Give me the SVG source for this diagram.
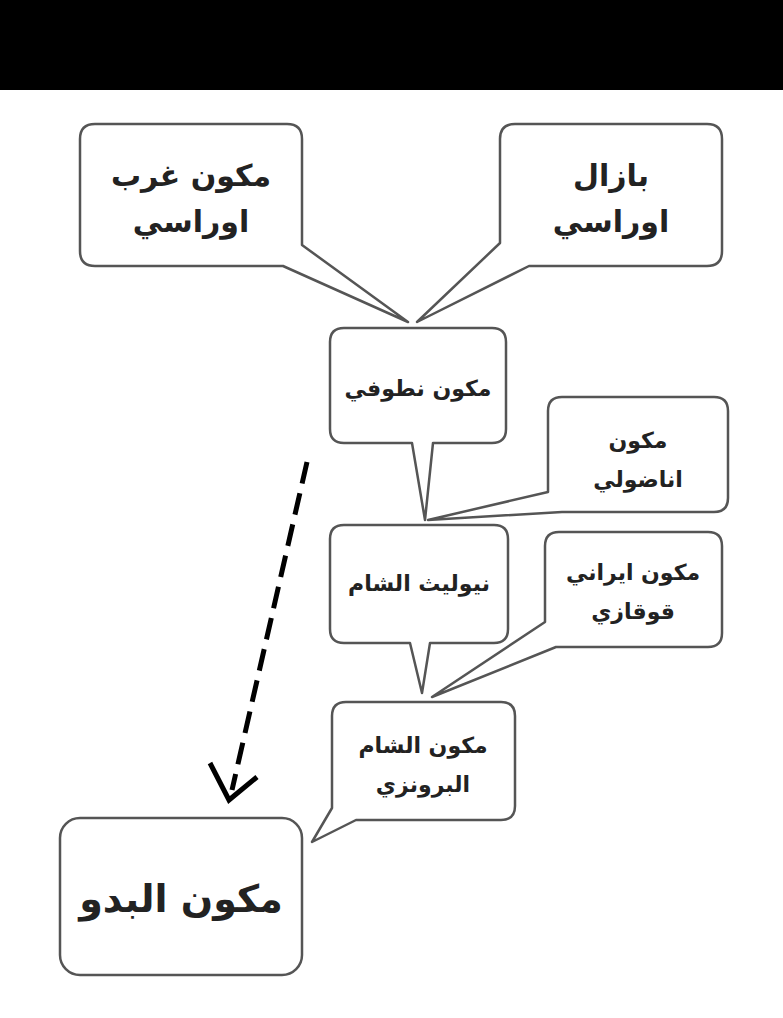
<svg xmlns="http://www.w3.org/2000/svg" width="783" height="1018" viewBox="0 0 783 1018">
<style>
.b{fill:#fff;stroke:#555;stroke-width:2.5;stroke-linejoin:round}
text{font-family:"DejaVu Sans","Noto Sans",sans-serif;font-weight:bold;fill:#222;text-anchor:middle}
.l{font-size:30px}.s{font-size:22px}.x{font-size:38px}
</style>
<rect width="783" height="1018" fill="#fff"/>
<rect width="783" height="90" fill="#000"/>
<g id="connectors">
<path d="M307,462 L232,790" fill="none" stroke="#000" stroke-width="5" stroke-dasharray="22,10"/>
<path d="M210,763 L229,800 L257,777" fill="none" stroke="#000" stroke-width="5" stroke-linejoin="miter"/>
</g>
<g id="n-west"><path class="b" d="M95,124 H287 Q302,124 302,139 V245 L408,322 L283,266 H95 Q80,266 80,251 V139 Q80,124 95,124 Z"/>
<text class="l" x="191" y="186">مكون غرب</text><text class="l" x="191" y="232">اوراسي</text></g>
<g id="n-basal"><path class="b" d="M515,124 H707 Q722,124 722,139 V251 Q722,266 707,266 H529 L417,322 L500,243 V139 Q500,124 515,124 Z"/>
<text class="l" x="611" y="186">بازال</text><text class="l" x="611" y="232">اوراسي</text></g>
<g id="n-natufian"><path class="b" d="M344,328 H492 Q506,328 506,342 V429 Q506,443 492,443 H433 L425,520 L412,443 H344 Q330,443 330,429 V342 Q330,328 344,328 Z"/>
<text class="s" x="418" y="396">مكون نطوفي</text></g>
<g id="n-anatolian"><path class="b" d="M562,397 H714 Q728,397 728,411 V498 Q728,512 714,512 H562 L428,520 L548,492 V411 Q548,397 562,397 Z"/>
<text class="s" x="638" y="448">مكون</text><text class="s" x="638" y="487">اناضولي</text></g>
<g id="n-neolithic"><path class="b" d="M344,525 H494 Q508,525 508,539 V629 Q508,643 494,643 H430 L422,693 L410,643 H344 Q330,643 330,629 V539 Q330,525 344,525 Z"/>
<text class="s" x="419" y="591">نيوليث الشام</text></g>
<g id="n-iranian"><path class="b" d="M559,532 H708 Q722,532 722,546 V633 Q722,647 708,647 H556 L432,697 L545,622 V546 Q545,532 559,532 Z"/>
<text class="s" x="633" y="580">مكون ايراني</text><text class="s" x="633" y="619">قوقازي</text></g>
<g id="n-bronze"><path class="b" d="M346,702 H501 Q515,702 515,716 V806 Q515,820 501,820 H356 L312,842 L332,808 V716 Q332,702 346,702 Z"/>
<text class="s" x="423" y="753">مكون الشام</text><text class="s" x="423" y="792">البرونزي</text></g>
<g id="n-bedouin"><rect class="b" x="60" y="818" width="242" height="157" rx="20"/>
<text class="x" x="181" y="912">مكون البدو</text></g>
</svg>
